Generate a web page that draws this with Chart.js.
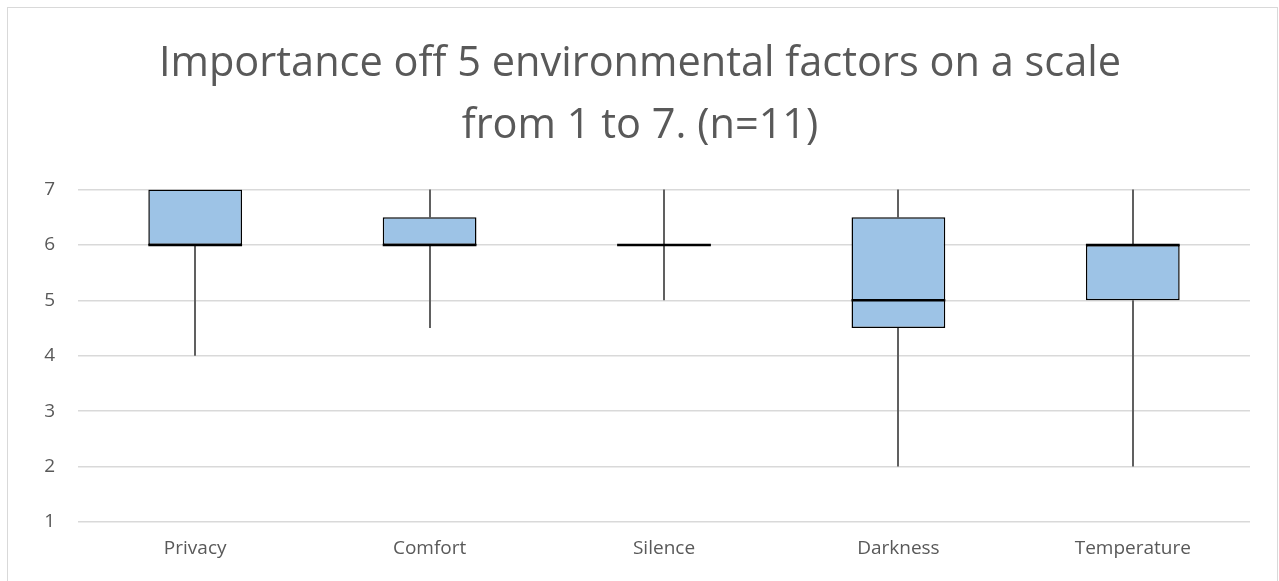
<!DOCTYPE html>
<html>
<head>
<meta charset="utf-8">
<script src="https://cdn.jsdelivr.net/npm/chart.js@4.4.1/dist/chart.umd.min.js"></script>
<style>
  html, body { margin: 0; padding: 0; background: #fff; }
  #wrap { width: 1279px; height: 581px; }
</style>
</head>
<body>
<div id="wrap"><canvas id="boxChart"></canvas></div>
<script>
// Box plot summary per factor (scale 1-7)
const categories = ["Privacy", "Comfort", "Silence", "Darkness", "Temperature"];
const minValues = [4, 4.5, 5, 2, 2];
const q1Values = [6, 6, 6, 4.5, 5];
const medianValues = [6, 6, 6, 5, 6];
const q3Values = [7, 6.5, 6, 6.5, 6];
const maxValues = [7, 7, 7, 7, 7];
const yTicks = [1, 2, 3, 4, 5, 6, 7];

const textColor = "#595959";
const gridColor = "#d9d9d9";

/**
 * Light frame around the chart, like the office chart area border.
 */
const chartFrame = {
  id: "chartFrame",
  beforeDraw(chart) {
    const { ctx } = chart;
    ctx.save();
    ctx.strokeStyle = gridColor;
    ctx.lineWidth = 1;
    ctx.strokeRect(7.5, 7.5, 1270, 620);
    ctx.restore();
  },
};

/**
 * Whiskers (behind the boxes) and median lines (on top).
 */
const boxPlotLines = {
  id: "boxPlotLines",
  beforeDatasetsDraw(chart) {
    const { ctx, scales: { x, y } } = chart;
    ctx.save();
    ctx.strokeStyle = "#606060";
    ctx.lineWidth = 2;
    categories.forEach((cat, i) => {
      const cx = Math.round(x.getPixelForValue(i));
      ctx.beginPath();
      ctx.moveTo(cx, y.getPixelForValue(minValues[i]));
      ctx.lineTo(cx, y.getPixelForValue(q1Values[i]));
      ctx.moveTo(cx, y.getPixelForValue(q3Values[i]));
      ctx.lineTo(cx, y.getPixelForValue(maxValues[i]));
      ctx.stroke();
    });
    ctx.restore();
  },
  afterDatasetsDraw(chart) {
    const { ctx, scales: { y } } = chart;
    const meta = chart.getDatasetMeta(0);
    ctx.save();
    ctx.strokeStyle = "#000000";
    ctx.lineWidth = 2.5;
    meta.data.forEach((bar, i) => {
      const my = y.getPixelForValue(medianValues[i]);
      ctx.beginPath();
      ctx.moveTo(bar.x - bar.width / 2, my);
      ctx.lineTo(bar.x + bar.width / 2, my);
      ctx.stroke();
    });
    ctx.restore();
  },
};

const ctx = document.getElementById("boxChart").getContext("2d");

new Chart(ctx, {
  type: "bar",
  data: {
    labels: categories,
    datasets: [
      {
        data: q1Values.map((q1, i) => [q1, q3Values[i]]),
        backgroundColor: "#9dc3e6",
        borderColor: "#000000",
        borderWidth: 1.5,
        borderSkipped: false,
        barPercentage: 0.4,
        categoryPercentage: 1,
      },
    ],
  },
  options: {
    responsive: true,
    maintainAspectRatio: false,
    animation: false,
    layout: {
      padding: { left: 30, right: 29, top: 0, bottom: 0 },
    },
    plugins: {
      legend: { display: false },
      tooltip: { enabled: false },
      title: {
        display: true,
        text: ["Importance off 5 environmental factors on a scale", "from 1 to 7. (n=11)"],
        color: textColor,
        font: { family: "'Open Sans'", size: 41.5, weight: "normal", lineHeight: 1.5 },
        padding: { top: 33, bottom: 32 },
      },
    },
    scales: {
      x: {
        grid: { display: false },
        border: { display: false },
        ticks: {
          color: textColor,
          font: { family: "'Open Sans'", size: 19 },
          padding: 7,
        },
        afterFit: (scale) => {
          scale.height = 59;
        },
      },
      y: {
        min: 1,
        max: 7,
        afterBuildTicks: (scale) => {
          scale.ticks = yTicks.map((v) => ({ value: v }));
        },
        grid: {
          color: gridColor,
          lineWidth: 1.5,
          drawTicks: false,
        },
        border: { display: false },
        ticks: {
          color: textColor,
          font: { family: "'Open Sans'", size: 19 },
          padding: 23,
        },
        afterFit: (scale) => {
          scale.width = 48;
        },
      },
    },
  },
  plugins: [chartFrame, boxPlotLines],
});
</script>
</body>
</html>
